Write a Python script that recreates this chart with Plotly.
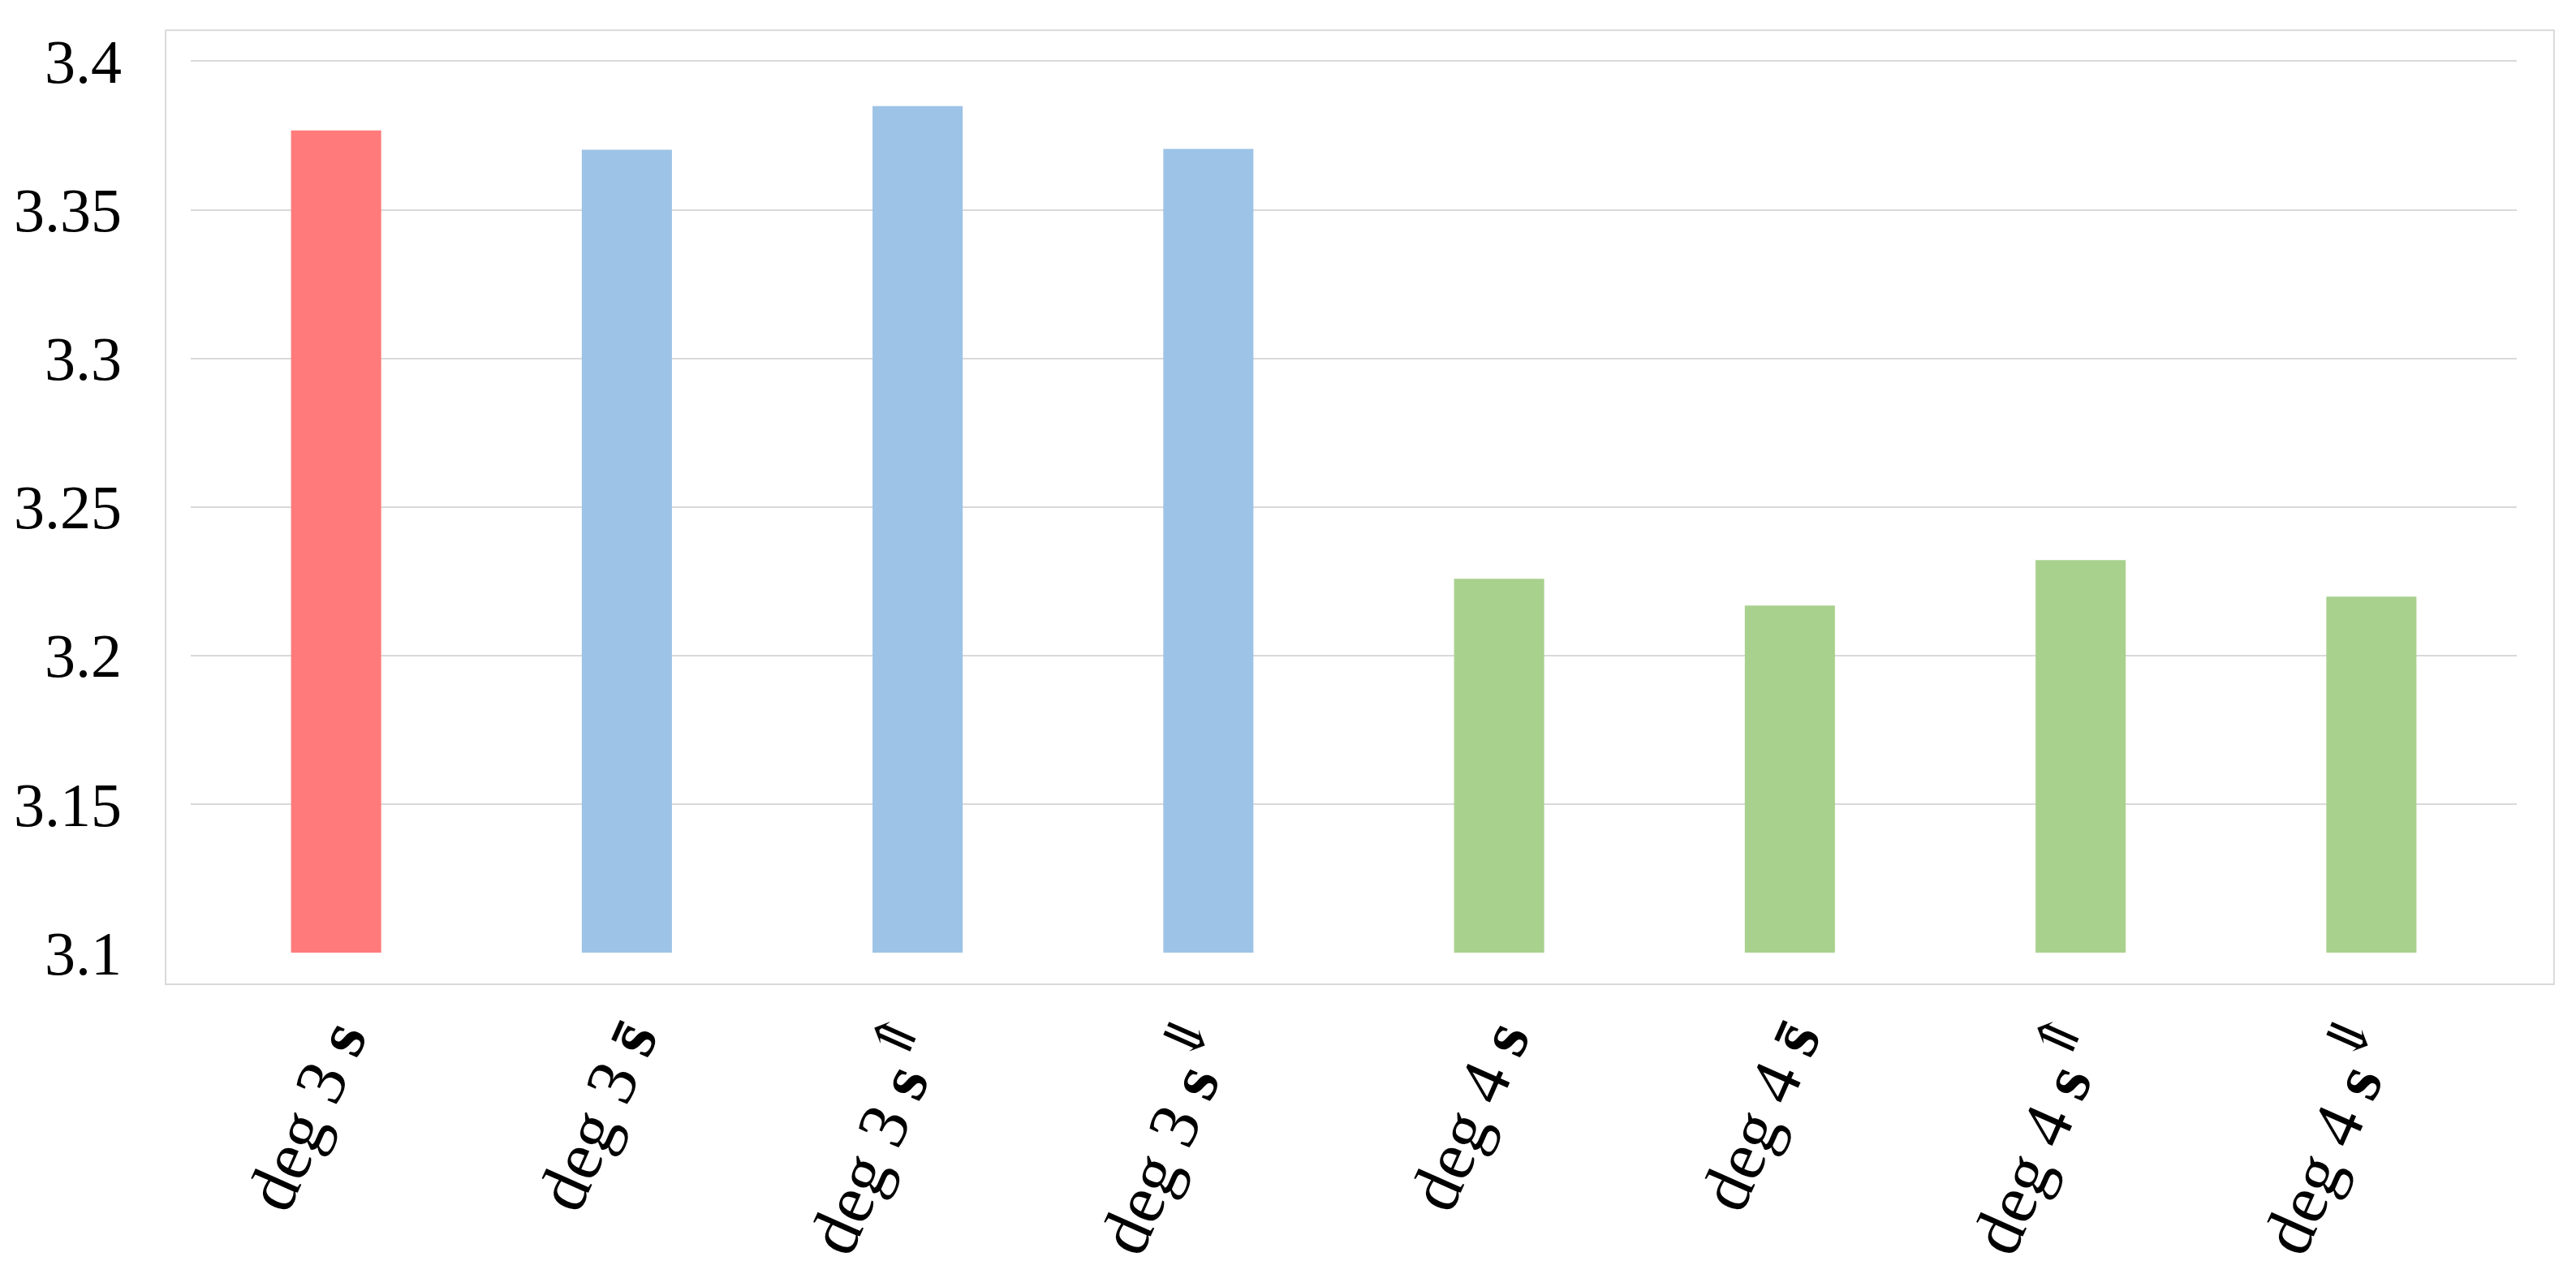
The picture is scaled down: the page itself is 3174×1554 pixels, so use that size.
import plotly.graph_objects as go

# valores
seta_cima = '<sup><span style="font-family:DejaVu Serif;font-size:70px">\u21d1</span></sup>'
seta_baixo = '<sup><span style="font-family:DejaVu Serif;font-size:70px">\u21d3</span></sup>'
categorias = [
    "deg 3 <b>s</b>",
    "deg 3 <b>s\u0304</b>",
    "deg 3 <b>s</b>" + seta_cima,
    "deg 3 <b>s</b>" + seta_baixo,
    "deg 4 <b>s</b>",
    "deg 4 <b>s\u0304</b>",
    "deg 4 <b>s</b>" + seta_cima,
    "deg 4 <b>s</b>" + seta_baixo,
]
valores = [3.3767, 3.3702, 3.3849, 3.3705, 3.2258, 3.2168, 3.2321, 3.2198]
cores = ["#FF7A7A", "#9DC3E6", "#9DC3E6", "#9DC3E6",
         "#A9D18E", "#A9D18E", "#A9D18E", "#A9D18E"]
ticks_y = [3.1, 3.15, 3.2, 3.25, 3.3, 3.35, 3.4]
rotulos_y = ["3.1", "3.15", "3.2", "3.25", "3.3", "3.35", "3.4"]

fonte = "Liberation Serif, DejaVu Serif, serif"

fig = go.Figure()
fig.add_trace(go.Bar(x=categorias, y=valores, marker=dict(color=cores, line=dict(width=0)),
                     width=0.31, showlegend=False))

# moldura cinza em volta do grafico
fig.add_shape(type="rect", xref="paper", yref="paper",
              x0=-0.0108, x1=1.016, y0=-0.0354, y1=1.0333,
              line=dict(color="#D9D9D9", width=2), fillcolor="rgba(0,0,0,0)", layer="below")

fig.update_layout(
    width=3174, height=1554,
    margin=dict(l=227, r=81, t=66, b=388),
    plot_bgcolor="white", paper_bgcolor="white",
    font=dict(family=fonte, color="black"),
)
fig.update_xaxes(tickangle=-66, tickfont=dict(size=86, family=fonte), showgrid=False,
                 showline=False, ticks="", ticklabelstandoff=40, automargin=False)
fig.update_yaxes(range=[3.1, 3.4004], tickvals=ticks_y, ticktext=rotulos_y,
                 tickfont=dict(size=76, family=fonte), showgrid=True,
                 gridcolor="#D9D9D9", gridwidth=2, zeroline=False, showline=False,
                 ticks="", ticklabelstandoff=84, automargin=False)

fig.write_html("out.html")
